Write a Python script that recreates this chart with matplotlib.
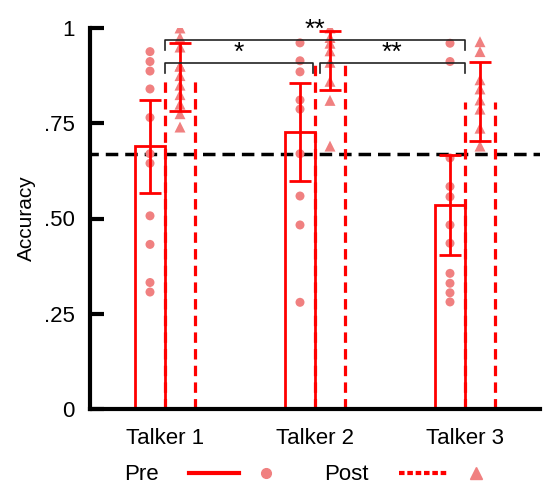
import matplotlib
matplotlib.use("Agg")
import matplotlib.pyplot as plt
import numpy as np
from matplotlib.lines import Line2D
from matplotlib.legend_handler import HandlerTuple

plt.rcParams['font.family'] = ['Liberation Sans', 'DejaVu Sans']
plt.rcParams['lines.scale_dashes'] = False

# ---- data ----
talkers = ["Talker 1", "Talker 2", "Talker 3"]
pre_mean = [0.690, 0.727, 0.535]
pre_err = [0.122, 0.128, 0.131]
post_mean = [0.872, 0.915, 0.807]
post_err = [0.089, 0.077, 0.104]
threshold = 0.67

pre_t1 = [0.938, 0.912, 0.887, 0.840, 0.765, 0.670, 0.645, 0.507, 0.432, 0.332, 0.307]
pre_t2 = [0.961, 0.914, 0.885, 0.811, 0.787, 0.670, 0.559, 0.483, 0.280]
pre_t3 = [0.960, 0.912, 0.659, 0.584, 0.557, 0.483, 0.435, 0.356, 0.330, 0.305, 0.281]
post_t1 = [1.000, 0.975, 0.950, 0.900, 0.900, 0.875, 0.850, 0.825, 0.800, 0.775, 0.740]
post_t2 = [1.000, 0.975, 0.960, 0.940, 0.910, 0.860, 0.810, 0.690]
post_t3 = [0.964, 0.938, 0.864, 0.840, 0.811, 0.787, 0.737, 0.690]
pre_points = [pre_t1, pre_t2, pre_t3]
post_points = [post_t1, post_t2, post_t3]

yticks = [0, 0.25, 0.5, 0.75, 1.0]
ytick_labels = ["0", ".25", ".50", ".75", "1"]

# significance brackets: (x1, x2, y, label)
brackets = [(0, 2, 0.968, "**"), (0, 0.985, 0.908, "*"), (1.03, 2, 0.908, "**")]

RED = "#FF0000"
PT = "#F08080"
FS = 16

fig = plt.figure(figsize=(5.44, 4.87), dpi=100)
ax = fig.add_axes([90/544, 78/487, 450/544, 381/487])

x = np.arange(len(talkers))
w = 0.2
xpre = x - w/2
xpost = x + w/2

# threshold line
ax.axhline(threshold, color="black", lw=2.5, linestyle=(3, (9, 5)), zorder=1)

# pre bars (solid outline)
ax.bar(xpre, pre_mean, width=w, fill=False, edgecolor=RED, linewidth=2, zorder=2)
# post bars (dashed sides)
ax.vlines(xpost - w/2, 0, post_mean, colors=RED, linewidth=2.3, linestyles=[(0, (7.5, 4.5))], zorder=2)
ax.vlines(xpost + w/2, 0, post_mean, colors=RED, linewidth=2.3, linestyles=[(0, (7.5, 4.5))], zorder=2)

# points
for i in range(len(talkers)):
    ax.scatter(np.full(len(pre_points[i]), xpre[i]), pre_points[i], s=42, marker="o",
               color=PT, edgecolors="none", zorder=3)
    ax.scatter(np.full(len(post_points[i]), xpost[i]), post_points[i], s=62, marker="^",
               color=PT, edgecolors="none", zorder=3)

# error bars
ax.errorbar(xpre, pre_mean, yerr=pre_err, fmt="none", ecolor=RED, elinewidth=2,
            capsize=8, capthick=2, zorder=4)
ax.errorbar(xpost, post_mean, yerr=post_err, fmt="none", ecolor=RED, elinewidth=2,
            capsize=8, capthick=2, zorder=4)

# brackets
for x1, x2, yb, lab in brackets:
    ax.plot([x1, x1, x2, x2], [yb - 0.025, yb, yb, yb - 0.025], color="#222222", lw=1.2, zorder=5)
    ax.text((x1 + x2) / 2, yb - 0.004, lab, ha="center", va="bottom", fontsize=19, zorder=5)

ax.set_xlim(-0.5, 2.5)
ax.set_ylim(0, 1)
ax.set_yticks(yticks)
ax.set_yticklabels(ytick_labels, fontsize=FS)
ax.set_xticks(x)
ax.set_xticklabels(talkers, fontsize=FS)
ax.tick_params(axis="y", direction="in", length=10, width=3, pad=11)
ax.tick_params(axis="x", length=0, pad=14)
ax.set_ylabel("Accuracy", fontsize=15, labelpad=6)
for s in ["top", "right"]:
    ax.spines[s].set_visible(False)
for s in ["left", "bottom"]:
    ax.spines[s].set_linewidth(3)
ax.spines["left"].set_bounds(0, 1)

# legend
h_pre_line = Line2D([], [], color=RED, lw=3)
h_pre_pt = Line2D([], [], color=PT, marker="o", ls="none", markersize=7)
h_post_line = Line2D([], [], color=RED, lw=3, ls=(0, (4, 2)))
h_post_pt = Line2D([], [], color=PT, marker="^", ls="none", markersize=9)
fig.legend([(h_pre_line, h_pre_pt), (h_post_line, h_post_pt)], ["Pre", "Post"],
           handler_map={tuple: HandlerTuple(ndivide=None, pad=0.1)},
           loc="center", bbox_to_anchor=(0.5745, 0.025), ncol=2, frameon=False,
           markerfirst=False, fontsize=FS, handlelength=4.6, handletextpad=1.35,
           columnspacing=1.5, borderaxespad=0, borderpad=0)

fig.savefig("out.png", dpi=100)
